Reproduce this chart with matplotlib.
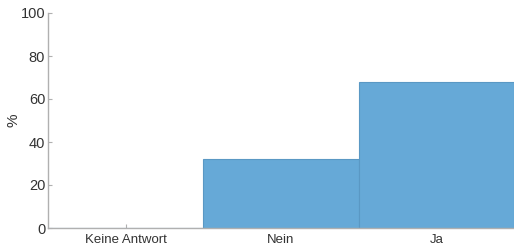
import matplotlib
matplotlib.use("Agg")
import matplotlib.pyplot as plt

categories = ["Keine Antwort", "Nein", "Ja"]
values = [0, 32, 68]

plt.rcParams['font.family'] = ['Liberation Sans', 'DejaVu Sans']

fig = plt.figure(figsize=(5.14, 2.47), dpi=100)
ax = fig.add_axes([48 / 514, 19 / 247, 466 / 514, 215 / 247])

x = range(len(categories))
ax.bar(x, values, width=1.0, color="#66a9d7", edgecolor="#5a98c4", linewidth=0.8, zorder=2)

ax.set_xlim(-0.5, 2.5)
ax.set_ylim(0, 100)
ax.set_xticks(list(x))
ax.set_xticklabels(categories, fontsize=9.5)
ax.set_yticks([0, 20, 40, 60, 80, 100])
ax.set_ylabel("%", fontsize=11, color="#333333")
ax.yaxis.set_label_coords(-0.058, 0.5)

for s in ["top", "right"]:
    ax.spines[s].set_visible(False)
for s in ["left", "bottom"]:
    ax.spines[s].set_color("#b0b0b0")
    ax.spines[s].set_linewidth(1.0)

ax.tick_params(direction="in", length=3, color="#b0b0b0", labelsize=10.5,
               labelcolor="#333333")
ax.tick_params(axis="y", pad=2)
ax.tick_params(axis="x", pad=4, labelsize=9.5)

fig.savefig("out.png", dpi=100)
